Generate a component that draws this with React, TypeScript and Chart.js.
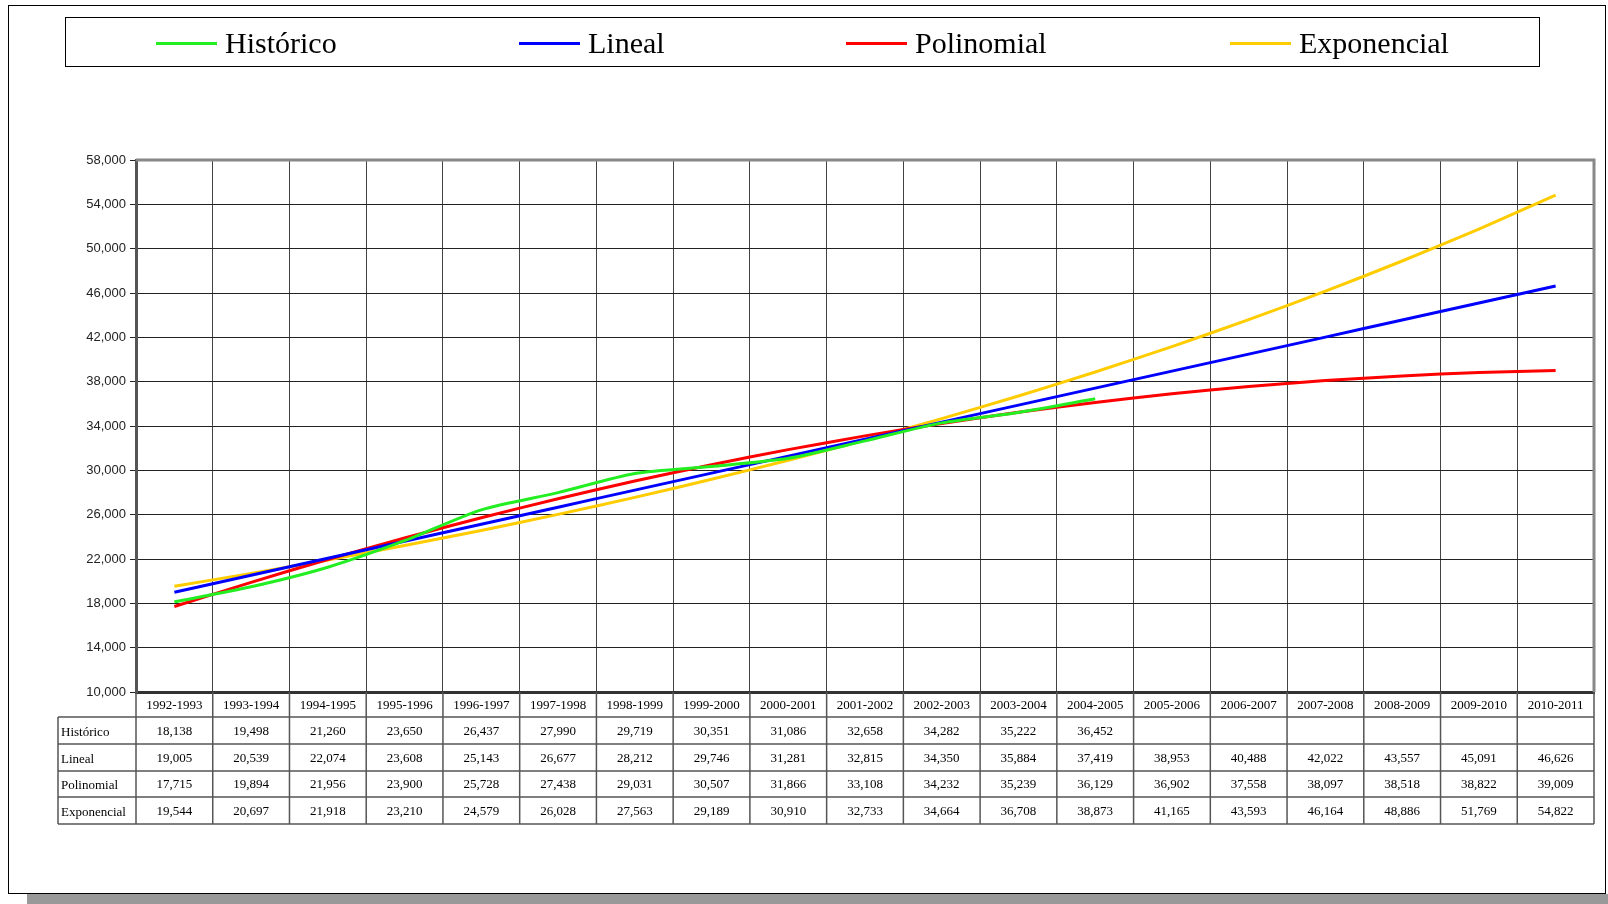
import React, { useEffect, useRef } from 'react';
import { Chart, registerables } from 'chart.js';
Chart.register(...registerables);

const categories = ['1992-1993', '1993-1994', '1994-1995', '1995-1996', '1996-1997', '1997-1998', '1998-1999', '1999-2000', '2000-2001', '2001-2002', '2002-2003', '2003-2004', '2004-2005', '2005-2006', '2006-2007', '2007-2008', '2008-2009', '2009-2010', '2010-2011'];
const historico = [18138, 19498, 21260, 23650, 26437, 27990, 29719, 30351, 31086, 32658, 34282, 35222, 36452, null, null, null, null, null, null];
const lineal = [19005, 20539, 22074, 23608, 25143, 26677, 28212, 29746, 31281, 32815, 34350, 35884, 37419, 38953, 40488, 42022, 43557, 45091, 46626];
const polinomial = [17715, 19894, 21956, 23900, 25728, 27438, 29031, 30507, 31866, 33108, 34232, 35239, 36129, 36902, 37558, 38097, 38518, 38822, 39009];
const exponencial = [19544, 20697, 21918, 23210, 24579, 26028, 27563, 29189, 30910, 32733, 34664, 36708, 38873, 41165, 43593, 46164, 48886, 51769, 54822];
const seriesNames = ['Histórico', 'Lineal', 'Polinomial', 'Exponencial'];
const seriesColors = ['#22EE22', '#0000FF', '#FF0000', '#FFCC00'];

const W = 1608;
const H = 904;

const fmt = (v: any) => (v == null ? '' : Number(v).toLocaleString('en-US'));

const decorPlugin = {
  id: 'decor',
  beforeDraw(chart: any) {
    const ctx = chart.ctx;
    ctx.save();
    ctx.fillStyle = '#ffffff';
    ctx.fillRect(0, 0, W, H);
    ctx.fillStyle = '#999999';
    ctx.fillRect(27, 894, W - 27, 10);
    ctx.strokeStyle = '#000';
    ctx.lineWidth = 1;
    ctx.strokeRect(8.5, 5.5, 1597, 888);
    ctx.strokeRect(65.5, 17.5, 1474, 49);
    const xs = [156, 519, 846, 1230];
    ctx.font = '30px "Liberation Serif"';
    ctx.textBaseline = 'middle';
    ctx.textAlign = 'left';
    ctx.fillStyle = '#000';
    chart.data.datasets.forEach((ds: any, i: number) => {
      ctx.strokeStyle = ds.borderColor;
      ctx.lineWidth = 3;
      ctx.beginPath();
      ctx.moveTo(xs[i], 43.5);
      ctx.lineTo(xs[i] + 61, 43.5);
      ctx.stroke();
      ctx.fillText(ds.label, xs[i] + 69, 45);
    });
    ctx.restore();
  },
  afterDraw(chart: any) {
    const ctx = chart.ctx;
    const area = chart.chartArea;
    const xs = chart.scales.x;
    const n = chart.data.labels.length;
    const colW = (area.right - area.left) / n;
    const rowY = [area.bottom, 717, 744, 771, 797, 824];
    ctx.save();
    ctx.strokeStyle = '#888888';
    ctx.lineWidth = 3;
    ctx.beginPath();
    ctx.moveTo(area.left, area.top);
    ctx.lineTo(area.right, area.top);
    ctx.lineTo(area.right, area.bottom);
    ctx.stroke();
    ctx.strokeStyle = '#555555';
    ctx.lineWidth = 1.5;
    for (let r = 1; r < rowY.length; r++) {
      ctx.beginPath();
      ctx.moveTo(58, rowY[r]);
      ctx.lineTo(area.right, rowY[r]);
      ctx.stroke();
    }
    ctx.beginPath();
    ctx.moveTo(58, rowY[1]);
    ctx.lineTo(58, rowY[5]);
    ctx.stroke();
    for (let i = 0; i <= n; i++) {
      const x = area.left + i * colW;
      ctx.beginPath();
      ctx.moveTo(x, area.bottom);
      ctx.lineTo(x, rowY[5]);
      ctx.stroke();
    }
    ctx.fillStyle = '#000';
    ctx.font = '13px "Liberation Serif"';
    ctx.textBaseline = 'middle';
    chart.data.datasets.forEach((ds: any, r: number) => {
      const yc = (rowY[r + 1] + rowY[r + 2]) / 2 + 1;
      ctx.textAlign = 'left';
      ctx.fillText(ds.label, 61, yc + 1);
      ctx.textAlign = 'center';
      ds.data.forEach((v: any, i: number) => {
        if (v == null) return;
        ctx.fillText(fmt(v), xs.getPixelForValue(i), yc);
      });
    });
    ctx.restore();
  },
};

export default function App() {
  const ref = useRef<HTMLCanvasElement>(null);
  useEffect(() => {
    const seriesData = [historico, lineal, polinomial, exponencial];
    const chart = new Chart(ref.current as HTMLCanvasElement, {
      type: 'line',
      data: {
        labels: categories,
        datasets: seriesData.map((d, i) => ({
          label: seriesNames[i],
          data: d,
          borderColor: seriesColors[i],
          backgroundColor: seriesColors[i],
          borderWidth: 3,
          pointRadius: 0,
          tension: 0.25,
          fill: false,
          spanGaps: false,
        })),
      },
      options: {
        responsive: false,
        animation: false,
        layout: { padding: { top: 160, right: 14, left: 0, bottom: 0 } },
        plugins: { legend: { display: false }, tooltip: { enabled: false } },
        scales: {
          x: {
            offset: true,
            afterFit: (s: any) => { s.height = 212; },
            grid: { offset: true, color: '#444444', lineWidth: 1, drawTicks: false },
            border: { display: true, color: '#333333', width: 3 },
            ticks: { color: '#000', font: { family: '"Liberation Serif"', size: 13 }, padding: 6, maxRotation: 0, autoSkip: false },
          },
          y: {
            min: 10000,
            max: 58000,
            afterFit: (s: any) => { s.width = 136; },
            grid: { color: '#222222', lineWidth: 1, tickLength: 6, drawTicks: true },
            border: { display: true, color: '#555555', width: 3 },
            ticks: { stepSize: 4000, color: '#222', padding: 4, font: { family: '"Liberation Sans"', size: 13 }, callback: (v: any) => fmt(v) },
          },
        },
      },
      plugins: [decorPlugin],
    } as any);
    return () => chart.destroy();
  }, []);
  return (
    <div style={{ position: 'fixed', left: 0, top: 0, width: W, height: H, background: '#fff' }}>
      <canvas ref={ref} width={W} height={H} style={{ display: 'block', width: W, height: H }} />
    </div>
  );
}
